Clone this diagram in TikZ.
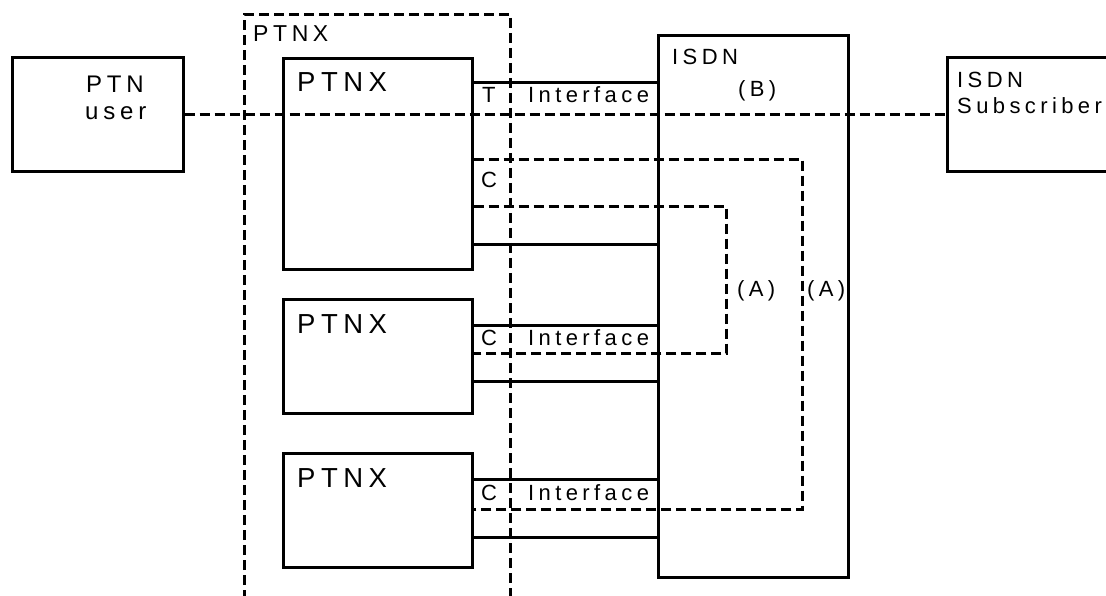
\documentclass[tikz,border=0pt]{standalone}
\usepackage{fontspec}
\setmainfont{Liberation Sans}[LetterSpace=20]
\newcommand\fsnorm{\fontsize{22}{26}\selectfont}
\newcommand\fsbig{\fontsize{24}{28}\selectfont}
\newcommand\fsbox{\fontsize{27.5}{32}\selectfont}

\begin{document}
\begin{tikzpicture}[x=1pt, y=-1pt,
        box/.style={rectangle, draw=black, line width=2.6pt, inner sep=0pt},
        lbl/.style={inner sep=0pt, anchor=base west, font=\fsnorm},
        sline/.style={draw=black, line width=2.8pt},
        dline/.style={draw=black, line width=2.8pt, dash pattern=on 10pt off 5pt},
      ]
      \clip (0,0) rectangle (1106,596);
      % end points and the PTNX region
      \node[box, minimum width=171pt, minimum height=114pt, anchor=north west] (user) at (11,56) {};
      \node[lbl, font=\fsbig] (usert1) at (86,93)  {PTN};
      \node[lbl, font=\fsbig] (usert2) at (85,120) {user};
      \draw[dline] (244.5,600) -- (244.5,14.5) -- (510.5,14.5) -- (510.5,600);
      \node[lbl, font=\fontsize{23}{27}\selectfont] (regt) at (253,42) {PTNX};
      \foreach \nm/\tp/\hh in {p1/57/211, p2/298/114, p3/452/114} {
        \node[box, minimum width=189pt, minimum height=\hh pt, anchor=north west] (\nm) at (282,\tp) {};
        \node[lbl, font=\fsbox] (\nm t) at (297,\tp+35) {PTNX};
      }
      \node[box, minimum width=190pt, minimum height=542pt, anchor=north west] (isdn) at (657,34) {};
      \node[lbl] (isdnt) at (672,65) {ISDN};
      \node[lbl] (bt) at (738,97) {(B)};
      \node[box, minimum width=200pt, minimum height=114pt, anchor=north west] (sub) at (946,56) {};
      \node[lbl] (subt1) at (957,88)  {ISDN};
      \node[lbl] (subt2) at (957,114) {Subscriber};
      \coordinate (ain)  at (726.5,300);
      \coordinate (aout) at (802.5,300);
      % connections
      \draw[dline] (user.east) -- (sub.west);
      \foreach \yy/\pp in {82.5/p1, 244.5/p1, 325.5/p2, 381.5/p2, 479.5/p3, 537.5/p3}
        \draw[sline] (\pp.east |- 0,\yy) -- (isdn.west |- 0,\yy);
      \draw[dline] (p1.east |- 0,159.5) -| (aout) |- (p3.east |- 0,509.5);
      \draw[dline] (p1.east |- 0,206.5) -| (ain)  |- (p2.east |- 0,353.5);
      \node[lbl] (tt)  at (482,103) {T};
      \node[lbl] (it1) at (528,103) {Interface};
      \node[lbl] (ct1) at (481,188) {C};
      \node[lbl] (ct2) at (481,345) {C};
      \node[lbl] (it2) at (528,345) {Interface};
      \node[lbl] (ct3) at (481,500) {C};
      \node[lbl] (it3) at (528,500) {Interface};
      \node[lbl] (ain t)  at (737,296) {(A)};
      \node[lbl] (aout t) at (807,296) {(A)};
    \end{tikzpicture}
\end{document}
